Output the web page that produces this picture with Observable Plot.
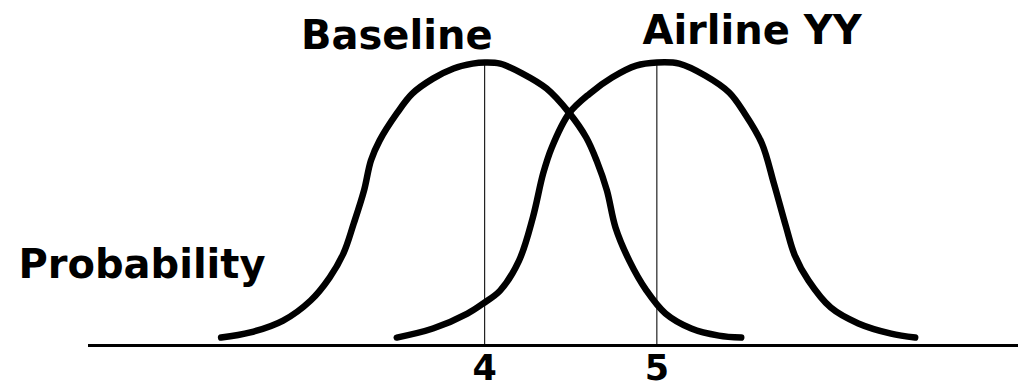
<!DOCTYPE html>
<html><head><meta charset="utf-8">
<script src="https://cdn.jsdelivr.net/npm/d3@7"></script>
<script src="https://cdn.jsdelivr.net/npm/@observablehq/plot@0.6"></script>
<style>body{margin:0;background:#fff}</style>
</head><body><div id="chart"></div>
<script>
const seriesNames = ["Baseline", "Airline YY"];
const baselineX = [2.47, 2.64, 2.83, 2.99, 3.10, 3.18, 3.24, 3.30, 3.34, 3.39, 3.49, 3.58, 3.70, 3.82, 3.93, 4.00, 4.09, 4.22, 4.36, 4.49, 4.59, 4.65, 4.71, 4.76, 4.84, 4.94, 5.05, 5.20, 5.36, 5.49];
const baselineP = [0.028, 0.046, 0.088, 0.159, 0.240, 0.325, 0.431, 0.548, 0.654, 0.724, 0.820, 0.890, 0.943, 0.979, 0.996, 1.0, 0.996, 0.961, 0.908, 0.823, 0.735, 0.654, 0.548, 0.417, 0.300, 0.194, 0.113, 0.060, 0.035, 0.028];
const airlineX = [3.49, 3.70, 3.90, 3.99, 4.09, 4.20, 4.28, 4.34, 4.39, 4.49, 4.61, 4.74, 4.88, 5.00, 5.13, 5.28, 5.42, 5.51, 5.61, 5.68, 5.75, 5.80, 5.88, 6.01, 6.17, 6.36, 6.50];
const airlineP = [0.028, 0.060, 0.113, 0.148, 0.194, 0.300, 0.452, 0.608, 0.700, 0.820, 0.890, 0.947, 0.989, 1.0, 0.996, 0.954, 0.894, 0.820, 0.714, 0.572, 0.420, 0.320, 0.230, 0.134, 0.078, 0.042, 0.028];
const means = [4, 5];
const tickValues = [4, 5];
const yLabel = "Probability";

const rows = [
  ...baselineX.map((x, i) => ({series: seriesNames[0], x, p: baselineP[i]})),
  ...airlineX.map((x, i) => ({series: seriesNames[1], x, p: airlineP[i]}))
];

const font = "DejaVu Sans";
const chart = Plot.plot({
  width: 1018,
  height: 390,
  marginLeft: 88,
  marginRight: 0,
  marginTop: 62,
  marginBottom: 45,
  style: {fontFamily: font, color: "#000", background: "#fff", overflow: "visible"},
  x: {domain: [1.7, 7.1]},
  y: {domain: [0, 1], axis: null},
  marks: [
    Plot.ruleX(means, {y1: 0, y2: 1, stroke: "#222", strokeWidth: 1.2}),
    Plot.ruleY([0], {stroke: "#000", strokeWidth: 3}),
    Plot.line(rows, {x: "x", y: "p", z: "series", curve: "catmull-rom", stroke: "#000", strokeWidth: 6.5, strokeLinecap: "round", strokeLinejoin: "round"}),
    Plot.axisX(tickValues, {tickSize: 0, tickPadding: 10, tickFormat: d => String(d), fontSize: 35, fontWeight: "bold", label: null}),
    Plot.text([seriesNames[0]], {x: 3.49, y: 1.046, text: d => d, textAnchor: "middle", lineAnchor: "bottom", fontSize: 40, fontWeight: "bold"}),
    Plot.text([seriesNames[1]], {x: 5.553, y: 1.067, text: d => d, textAnchor: "middle", lineAnchor: "bottom", fontSize: 40, fontWeight: "bold"}),
    Plot.text([yLabel], {x: 1.293, y: 0.237, text: d => d, textAnchor: "start", lineAnchor: "bottom", fontSize: 40, fontWeight: "bold"})
  ]
});
document.getElementById("chart").appendChild(chart);
</script>
</body></html>
